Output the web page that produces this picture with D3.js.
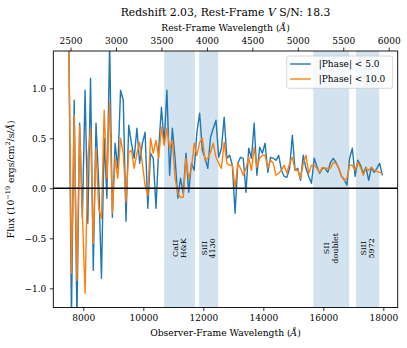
<!DOCTYPE html>
<html>
<head>
<meta charset="utf-8">
<script src="https://cdn.jsdelivr.net/npm/d3@7"></script>
<style>
  body { margin: 0; background: #fff; }
  text { font-family: "DejaVu Serif", serif; fill: #000; }
</style>
</head>
<body>
<script>
var width = 407, height = 348;
var redshift = 2.03;

// rest-frame wavelength grid (Å)
var restWave = [2480,2510,2540,2570,2600,2630,2660,2690,2720,2750,2780,2810,2840,2870,2900,2930,2960,2990,
  3020,3050,3080,3110,3140,3170,3200,3230,3260,3290,3320,3350,3380,3410,3440,3470,3500,3530,3560,3590,
  3620,3650,3680,3710,3740,3770,3800,3830,3860,3890,3920,3950,3980,4010,4040,4070,4100,4130,4160,4190,
  4220,4250,4280,4310,4340,4370,4400,4430,4460,4490,4520,4550,4580,4610,4640,4670,4700,4730,4760,4790,
  4820,4850,4880,4910,4940,4970,5000,5030,5060,5090,5120,5150,5180,5210,5240,5270,5300,5330,5360,5390,
  5420,5450,5480,5510,5540,5570,5600,5630,5660,5690,5720,5750,5780,5810,5840,5870,5900,5930];

// |Phase| < 5.0
var fluxPhase5 = [1.6,-1.3,0.88,-1.3,0.65,-0.3,0.98,-0.35,1.1,-0.82,0.65,0.05,-0.9,0.5,-0.1,1.45,-0.29,0.45,
  0.2,0.98,0.88,-0.33,0.63,0.45,0.3,0.6,0.25,0.45,0.56,-0.2,0.35,0.3,-0.2,0.4,0.81,0.45,0.98,0.13,
  0.6,0.3,-0.1,0.1,-0.05,0.35,-0.04,0.25,0.18,0.56,0.75,0.38,0.3,0.2,0.51,0.6,0.68,0.31,0.4,0.71,
  0.3,0.33,0.23,-0.25,0.25,0.31,0.3,-0.04,0.4,0.3,0.65,0.13,0.41,0.35,0.45,0.16,0.31,0.3,0.28,0.33,
  0.18,0.12,0.11,0.2,0.53,0.18,0.2,0.08,0.33,0.2,0.12,0.05,0.3,0.22,0.15,0.2,0.2,0.16,0.26,0.3,
  0.26,0.2,0.12,0.09,0.03,0.3,0.4,0.12,0.28,0.23,0.15,0.21,0.08,0.21,0.16,0.2,0.25,0.13];

// |Phase| < 10.0
var fluxPhase10 = [1.6,-0.85,0.73,-0.92,0.62,-0.25,-1.05,0.3,0.6,-0.55,0.4,-0.2,-0.3,0.78,0.1,0.86,-0.25,0.3,
  0.1,0.5,0.35,-0.14,0.36,0.38,0.2,0.35,0.46,0.25,0.03,-0.07,0.5,0.35,0.48,0.3,0.61,0.43,0.6,0.4,
  0.48,0.1,-0.05,-0.09,-0.09,0.3,0.1,0.2,0.45,0.33,0.46,0.5,0.28,0.3,0.36,0.45,0.31,0.25,0.2,0.46,
  0.25,0.23,0.23,0.01,0.25,0.2,0.13,0.2,0.31,0.18,0.41,0.21,0.3,0.33,0.33,0.2,0.28,0.25,0.13,0.15,
  0.18,0.23,0.15,0.25,0.31,0.18,0.18,0.1,0.25,0.33,0.15,0.23,0.23,0.2,0.16,0.21,0.2,0.2,0.2,0.26,
  0.25,0.2,0.13,0.08,0.1,0.23,0.23,0.18,0.26,0.21,0.13,0.2,0.18,0.21,0.18,0.17,0.16,0.15];

// shaded line regions, rest frame (Å)
var bandStart = [3530, 3915, 5170, 5640];
var bandEnd = [3870, 4125, 5565, 5895];
var bandLabels = [["CaII", "H&K"], ["SiII", "4130"], ["SII", "doublet"], ["SiII", "5972"]];

var obsTicks = [8000, 10000, 12000, 14000, 16000, 18000];
var restTicks = [2500, 3000, 3500, 4000, 4500, 5000, 5500, 6000];
var yTicks = [-1.0, -0.5, 0.0, 0.5, 1.0];

var seriesNames = ["|Phase| < 5.0", "|Phase| < 10.0"];
var seriesColors = ["#1f77b4", "#ff7f0e"];

var margin = {left: 53.3, right: 9.3, top: 51, bottom: 40.5};
var plotW = width - margin.left - margin.right;
var plotH = height - margin.top - margin.bottom;

var x = d3.scaleLinear().domain([7000, 18480]).range([0, plotW]);
var xTop = d3.scaleLinear().domain([7000 / (1 + redshift), 18480 / (1 + redshift)]).range([0, plotW]);
var y = d3.scaleLinear().domain([-1.192, 1.373]).range([plotH, 0]);

var svg = d3.select("body").append("svg")
    .attr("width", width)
    .attr("height", height);

var g = svg.append("g").attr("transform", "translate(" + margin.left + "," + margin.top + ")");

svg.append("defs").append("clipPath").attr("id", "clip")
    .append("rect").attr("width", plotW).attr("height", plotH);

// bandes
g.selectAll(".band").data(bandStart).enter().append("rect")
    .attr("x", function (d) { return x(d * (1 + redshift)); })
    .attr("width", function (d, i) { return x(bandEnd[i] * (1 + redshift)) - x(d * (1 + redshift)); })
    .attr("y", 0)
    .attr("height", plotH)
    .attr("fill", "#d2e3ef");

// labels des bandes (texte vertical)
bandLabels.forEach(function (lab, i) {
    var cx = x((bandStart[i] + bandEnd[i]) / 2 * (1 + redshift));
    var t = g.append("text")
        .attr("transform", "translate(" + cx + "," + y(-0.6) + ") rotate(-90)")
        .attr("text-anchor", "middle")
        .style("font-size", "8px");
    t.append("tspan").attr("x", 0).attr("dy", "-0.25em").text(lab[0]);
    t.append("tspan").attr("x", 0).attr("dy", "1.05em").text(lab[1]);
});

var line = d3.line()
    .x(function (d, i) { return x(restWave[i] * (1 + redshift)); })
    .y(function (d) { return y(d); });

var lines = g.append("g").attr("clip-path", "url(#clip)");
[fluxPhase5, fluxPhase10].forEach(function (s, k) {
    lines.append("path")
        .attr("d", line(s))
        .attr("fill", "none")
        .attr("stroke", seriesColors[k])
        .attr("stroke-width", 1.4)
        .attr("stroke-linejoin", "round");
});

// ligne zéro
g.append("line")
    .attr("x1", 0).attr("x2", plotW)
    .attr("y1", y(0)).attr("y2", y(0))
    .attr("stroke", "#000").attr("stroke-width", 1.5);

// axes
var xAxis = g.append("g").attr("transform", "translate(0," + plotH + ")")
    .call(d3.axisBottom(x).tickValues(obsTicks).tickSize(3.5).tickPadding(3.5).tickFormat(d3.format("d")));
var xAxisTop = g.append("g")
    .call(d3.axisTop(xTop).tickValues(restTicks).tickSize(3.5).tickPadding(3.5).tickFormat(d3.format("d")));
var yAxis = g.append("g")
    .call(d3.axisLeft(y).tickValues(yTicks).tickSize(3.5).tickPadding(3.5)
        .tickFormat(function (d) { return d3.format(".1f")(d).replace("-", "\u2212"); }));

[xAxis, xAxisTop, yAxis].forEach(function (a) {
    a.select(".domain").remove();
    a.selectAll("text").style("font-size", "9px").style("font-family", "DejaVu Serif, serif");
    a.selectAll("line").attr("stroke", "#000").attr("stroke-width", 0.8);
});

g.append("rect")
    .attr("width", plotW).attr("height", plotH)
    .attr("fill", "none").attr("stroke", "#000").attr("stroke-width", 0.9);

// titres
svg.append("text")
    .attr("x", margin.left + plotW / 2).attr("y", 16)
    .attr("text-anchor", "middle").style("font-size", "10.8px")
    .html('Redshift 2.03, Rest-Frame <tspan font-style="italic">V</tspan> S/N: 18.3');

svg.append("text")
    .attr("x", margin.left + plotW / 2).attr("y", 30.5)
    .attr("text-anchor", "middle").style("font-size", "9.2px")
    .html('Rest-Frame Wavelength (<tspan font-style="italic">Å</tspan>)');

svg.append("text")
    .attr("x", margin.left + plotW / 2).attr("y", 336)
    .attr("text-anchor", "middle").style("font-size", "9.2px")
    .html('Observer-Frame Wavelength (<tspan font-style="italic">Å</tspan>)');

svg.append("text")
    .attr("transform", "translate(14," + (margin.top + plotH / 2) + ") rotate(-90)")
    .attr("text-anchor", "middle").style("font-size", "9.2px")
    .html('Flux (10<tspan dy="-4" font-size="6.5px">\u221219</tspan><tspan dy="4"> ergs/cm</tspan><tspan dy="-4" font-size="6.5px">2</tspan><tspan dy="4">/s/</tspan><tspan font-style="italic">Å</tspan>)');

// légende
var legend = svg.append("g").attr("transform", "translate(286.7,56)");
legend.append("rect")
    .attr("width", 106).attr("height", 32.3).attr("rx", 2)
    .attr("fill", "#fff").attr("fill-opacity", 0.8)
    .attr("stroke", "#ccc").attr("stroke-width", 0.8);
seriesNames.forEach(function (name, i) {
    var yy = 8 + i * 15;
    legend.append("line")
        .attr("x1", 3.5).attr("x2", 24).attr("y1", yy).attr("y2", yy)
        .attr("stroke", seriesColors[i]).attr("stroke-width", 1.4);
    legend.append("text")
        .attr("x", 32).attr("y", yy + 3.3)
        .style("font-size", "9px")
        .text(name);
});
</script>
</body>
</html>
